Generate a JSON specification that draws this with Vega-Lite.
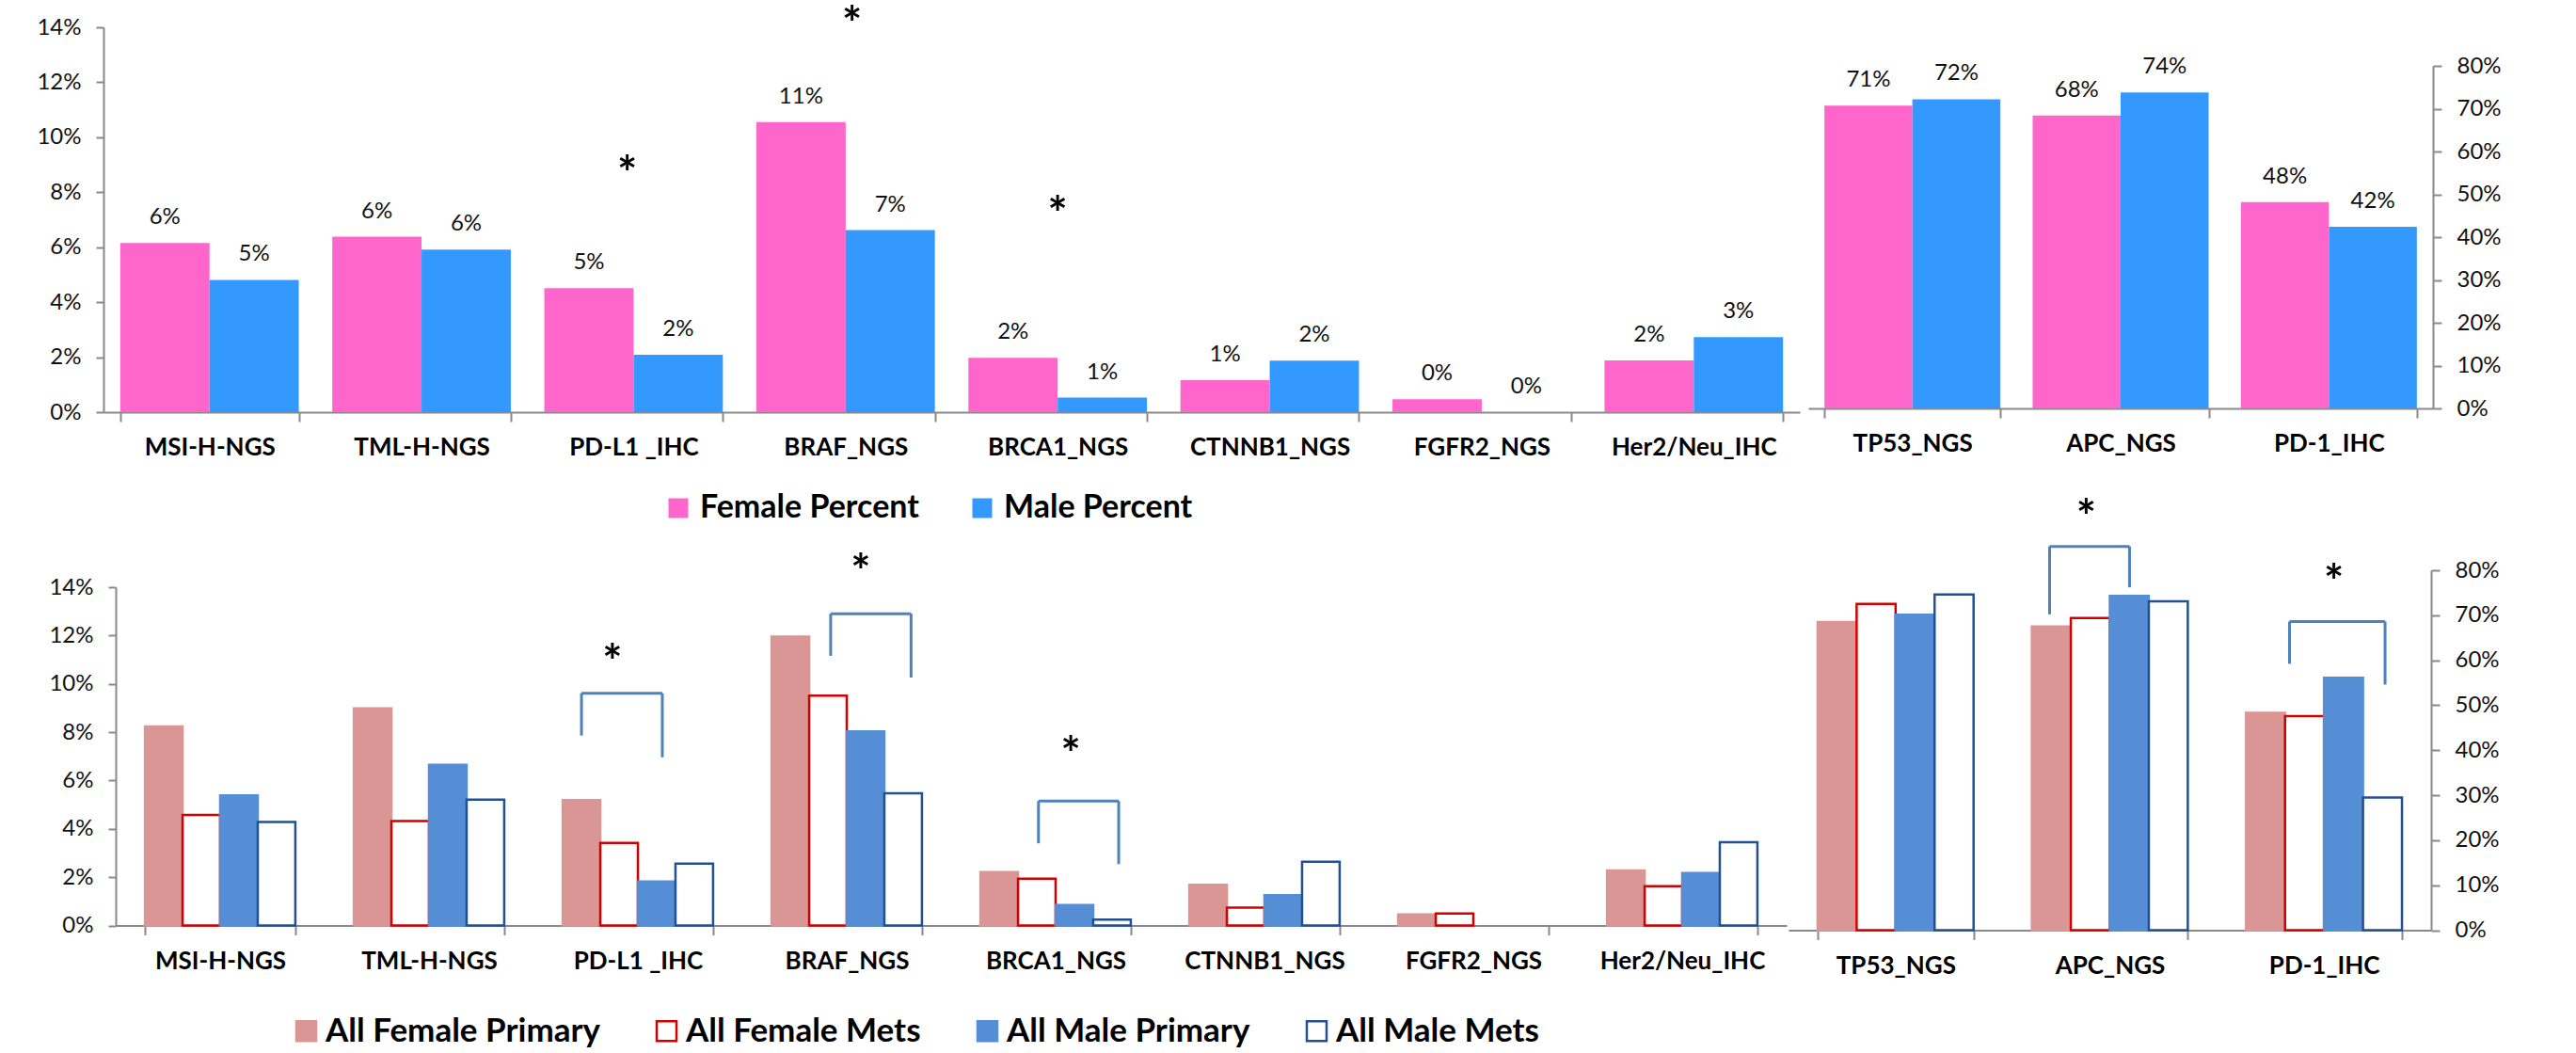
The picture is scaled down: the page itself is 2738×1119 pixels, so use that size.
{
  "$schema": "https://vega.github.io/schema/vega-lite/v6.json",
  "autosize": {"type": "pad"},
  "padding": {"left": 38, "top": 3, "right": 0, "bottom": 0},
  "background": "white",
  "config": {
    "font": "Lato",
    "view": {"stroke": null},
    "axis": {"domainColor": "#898989", "domainWidth": 2, "tickColor": "#898989", "tickWidth": 2, "grid": false, "title": null, "labelColor": "#111", "labelFont": "Lato"},
    "legend": {"labelFont": "Lato", "labelColor": "#000", "labelLimit": 600}
  },
  "datasets": {
    "topL": [
      {"cat": "MSI-H-NGS", "series": "Female Percent", "value": 0.0615},
      {"cat": "MSI-H-NGS", "series": "Male Percent", "value": 0.0481},
      {"cat": "TML-H-NGS", "series": "Female Percent", "value": 0.0638},
      {"cat": "TML-H-NGS", "series": "Male Percent", "value": 0.0591},
      {"cat": "PD-L1 _IHC", "series": "Female Percent", "value": 0.0451},
      {"cat": "PD-L1 _IHC", "series": "Male Percent", "value": 0.0209},
      {"cat": "BRAF_NGS", "series": "Female Percent", "value": 0.1055},
      {"cat": "BRAF_NGS", "series": "Male Percent", "value": 0.0662},
      {"cat": "BRCA1_NGS", "series": "Female Percent", "value": 0.0198},
      {"cat": "BRCA1_NGS", "series": "Male Percent", "value": 0.0053},
      {"cat": "CTNNB1_NGS", "series": "Female Percent", "value": 0.0116},
      {"cat": "CTNNB1_NGS", "series": "Male Percent", "value": 0.0187},
      {"cat": "FGFR2_NGS", "series": "Female Percent", "value": 0.0047},
      {"cat": "FGFR2_NGS", "series": "Male Percent", "value": 0},
      {"cat": "Her2/Neu_IHC", "series": "Female Percent", "value": 0.0188},
      {"cat": "Her2/Neu_IHC", "series": "Male Percent", "value": 0.0273}
    ],
    "topR": [
      {"cat": "TP53_NGS", "series": "Female Percent", "value": 0.707},
      {"cat": "TP53_NGS", "series": "Male Percent", "value": 0.722},
      {"cat": "APC_NGS", "series": "Female Percent", "value": 0.684},
      {"cat": "APC_NGS", "series": "Male Percent", "value": 0.738},
      {"cat": "PD-1_IHC", "series": "Female Percent", "value": 0.482},
      {"cat": "PD-1_IHC", "series": "Male Percent", "value": 0.424}
    ],
    "botL": [
      {"cat": "MSI-H-NGS", "series": "All Female Primary", "value": 0.0824},
      {"cat": "MSI-H-NGS", "series": "All Female Mets", "value": 0.0458},
      {"cat": "MSI-H-NGS", "series": "All Male Primary", "value": 0.0538},
      {"cat": "MSI-H-NGS", "series": "All Male Mets", "value": 0.0428},
      {"cat": "TML-H-NGS", "series": "All Female Primary", "value": 0.0899},
      {"cat": "TML-H-NGS", "series": "All Female Mets", "value": 0.0432},
      {"cat": "TML-H-NGS", "series": "All Male Primary", "value": 0.0665},
      {"cat": "TML-H-NGS", "series": "All Male Mets", "value": 0.0521},
      {"cat": "PD-L1 _IHC", "series": "All Female Primary", "value": 0.0519},
      {"cat": "PD-L1 _IHC", "series": "All Female Mets", "value": 0.0342},
      {"cat": "PD-L1 _IHC", "series": "All Male Primary", "value": 0.0182},
      {"cat": "PD-L1 _IHC", "series": "All Male Mets", "value": 0.0256},
      {"cat": "BRAF_NGS", "series": "All Female Primary", "value": 0.1196},
      {"cat": "BRAF_NGS", "series": "All Female Mets", "value": 0.0951},
      {"cat": "BRAF_NGS", "series": "All Male Primary", "value": 0.0803},
      {"cat": "BRAF_NGS", "series": "All Male Mets", "value": 0.0547},
      {"cat": "BRCA1_NGS", "series": "All Female Primary", "value": 0.0221},
      {"cat": "BRCA1_NGS", "series": "All Female Mets", "value": 0.0194},
      {"cat": "BRCA1_NGS", "series": "All Male Primary", "value": 0.0085},
      {"cat": "BRCA1_NGS", "series": "All Male Mets", "value": 0.0024},
      {"cat": "CTNNB1_NGS", "series": "All Female Primary", "value": 0.0168},
      {"cat": "CTNNB1_NGS", "series": "All Female Mets", "value": 0.0074},
      {"cat": "CTNNB1_NGS", "series": "All Male Primary", "value": 0.0126},
      {"cat": "CTNNB1_NGS", "series": "All Male Mets", "value": 0.0264},
      {"cat": "FGFR2_NGS", "series": "All Female Primary", "value": 0.0046},
      {"cat": "FGFR2_NGS", "series": "All Female Mets", "value": 0.005},
      {"cat": "Her2/Neu_IHC", "series": "All Female Primary", "value": 0.0228},
      {"cat": "Her2/Neu_IHC", "series": "All Female Mets", "value": 0.0163},
      {"cat": "Her2/Neu_IHC", "series": "All Male Primary", "value": 0.0217},
      {"cat": "Her2/Neu_IHC", "series": "All Male Mets", "value": 0.0345}
    ],
    "botR": [
      {"cat": "TP53_NGS", "series": "All Female Primary", "value": 0.685},
      {"cat": "TP53_NGS", "series": "All Female Mets", "value": 0.725},
      {"cat": "TP53_NGS", "series": "All Male Primary", "value": 0.701},
      {"cat": "TP53_NGS", "series": "All Male Mets", "value": 0.746},
      {"cat": "APC_NGS", "series": "All Female Primary", "value": 0.675},
      {"cat": "APC_NGS", "series": "All Female Mets", "value": 0.694},
      {"cat": "APC_NGS", "series": "All Male Primary", "value": 0.743},
      {"cat": "APC_NGS", "series": "All Male Mets", "value": 0.731},
      {"cat": "PD-1_IHC", "series": "All Female Primary", "value": 0.483},
      {"cat": "PD-1_IHC", "series": "All Female Mets", "value": 0.476},
      {"cat": "PD-1_IHC", "series": "All Male Primary", "value": 0.561},
      {"cat": "PD-1_IHC", "series": "All Male Mets", "value": 0.295}
    ],
    "astTL": [{"x": 2.47, "y": 0.0898}, {"x": 3.53, "y": 0.1441}, {"x": 4.5, "y": 0.075}],
    "astBL": [{"x": 2.378, "y": 0.1123}, {"x": 3.567, "y": 0.1498}, {"x": 4.573, "y": 0.0741}],
    "astBR": [{"x": 1.39, "y": 0.936}, {"x": 2.546, "y": 0.792}],
    "brBL": [
      {"x1": 2.23, "x2": 2.617, "top": 0.0961, "yl": 0.0786, "yr": 0.0696},
      {"x1": 3.423, "x2": 3.808, "top": 0.129, "yl": 0.1116, "yr": 0.1026},
      {"x1": 4.418, "x2": 4.802, "top": 0.0515, "yl": 0.034, "yr": 0.0254}
    ],
    "brBR": [
      {"x1": 1.219, "x2": 1.592, "top": 0.853, "yl": 0.702, "yr": 0.762},
      {"x1": 2.339, "x2": 2.785, "top": 0.686, "yl": 0.592, "yr": 0.546}
    ]
  },
  "columns": 2,
  "bounds": "flush",
  "align": "all",
  "spacing": {"row": 168, "column": 9},
  "resolve": {"scale": {"xOffset": "independent"}},
  "concat": [
    {
      "width": 1803,
      "height": 409,
      "resolve": {"scale": {"x": "independent"}},
      "layer": [
        {
          "data": {"name": "topL"},
          "layer": [
            {
              "mark": {"type": "bar"},
              "encoding": {
                "x": {"field": "cat", "type": "nominal", "sort": null,
                  "scale": {"paddingInner": 0.158, "paddingOuter": 0.079},
                  "axis": {"labelAngle": 0, "labelFontSize": 26, "labelFontWeight": "bold", "tickBand": "extent", "tickSize": 10, "labelPadding": 14, "labelColor": "#000"}},
                "xOffset": {"field": "series", "type": "nominal", "sort": ["Female Percent", "Male Percent"], "scale": {"paddingInner": 0, "paddingOuter": 0}},
                "y": {"field": "value", "type": "quantitative",
                  "scale": {"domain": [0, 0.14], "nice": false},
                  "axis": {"values": [0, 0.02, 0.04, 0.06, 0.08, 0.1, 0.12, 0.14], "format": ".0%", "labelFontSize": 24, "tickSize": 8, "labelPadding": 16}},
                "color": {"field": "series", "type": "nominal",
                  "scale": {"domain": ["Female Percent", "Male Percent"], "range": ["#FF66CC", "#3399FF"]},
                  "legend": {"orient": "none", "legendX": 594, "legendY": 494, "direction": "horizontal", "title": null, "symbolType": "square", "symbolSize": 441, "symbolStrokeWidth": 0, "labelFontSize": 34, "labelFontWeight": "bold", "labelOffset": 6, "columnPadding": 50}}
              }
            },
            {
              "mark": {"type": "text", "dy": -27, "fontSize": 24, "baseline": "middle", "color": "#111"},
              "encoding": {
                "x": {"field": "cat", "type": "nominal", "sort": null},
                "xOffset": {"field": "series", "type": "nominal", "sort": ["Female Percent", "Male Percent"]},
                "y": {"field": "value", "type": "quantitative", "scale": {"domain": [0, 0.14], "nice": false}},
                "text": {"field": "value", "type": "quantitative", "format": ".0%"}
              }
            }
          ]
        },
        {
          "data": {"name": "astTL"},
          "mark": {"type": "text", "fontSize": 50, "fontWeight": "bold", "baseline": "middle", "dy": 11, "color": "#000"},
          "encoding": {
            "x": {"field": "x", "type": "quantitative", "scale": {"domain": [0, 8], "nice": false, "zero": false}, "axis": null},
            "y": {"field": "y", "type": "quantitative", "scale": {"domain": [0, 0.14], "nice": false}},
            "text": {"value": "*"}
          }
        }
      ]
    },
    {
      "width": 664,
      "height": 405,
      "data": {"name": "topR"},
      "layer": [
        {
          "mark": {"type": "bar"},
          "encoding": {
            "x": {"field": "cat", "type": "nominal", "sort": null,
              "scale": {"paddingInner": 0.155, "paddingOuter": 0.0775},
              "axis": {"labelAngle": 0, "labelFontSize": 26, "labelFontWeight": "bold", "tickBand": "extent", "tickSize": 10, "labelPadding": 14, "labelColor": "#000"}},
            "xOffset": {"field": "series", "type": "nominal", "sort": ["Female Percent", "Male Percent"], "scale": {"paddingInner": 0, "paddingOuter": 0}},
            "y": {"field": "value", "type": "quantitative",
              "scale": {"domain": [0, 0.8], "nice": false, "range": [405, 41]},
              "axis": {"orient": "right", "values": [0, 0.1, 0.2, 0.3, 0.4, 0.5, 0.6, 0.7, 0.8], "format": ".0%", "labelFontSize": 24, "tickSize": 9, "labelPadding": 16}},
            "color": {"field": "series", "type": "nominal",
              "scale": {"domain": ["Female Percent", "Male Percent"], "range": ["#FF66CC", "#3399FF"]},
              "legend": {"orient": "none", "legendX": 594, "legendY": 494, "direction": "horizontal", "title": null, "symbolType": "square", "symbolSize": 441, "symbolStrokeWidth": 0, "labelFontSize": 34, "labelFontWeight": "bold", "labelOffset": 6, "columnPadding": 50}}
          }
        },
        {
          "mark": {"type": "text", "dy": -27, "fontSize": 24, "baseline": "middle", "color": "#111"},
          "encoding": {
            "x": {"field": "cat", "type": "nominal", "sort": null},
            "xOffset": {"field": "series", "type": "nominal", "sort": ["Female Percent", "Male Percent"]},
            "y": {"field": "value", "type": "quantitative", "scale": {"domain": [0, 0.8], "nice": false, "range": [405, 41]}},
            "text": {"field": "value", "type": "quantitative", "format": ".0%"}
          }
        }
      ]
    },
    {
      "width": 1789,
      "height": 377.5,
      "resolve": {"scale": {"x": "independent"}},
      "layer": [
        {
          "data": {"name": "botL"},
          "mark": {"type": "bar", "strokeWidth": 2.5},
          "encoding": {
            "x": {"field": "cat", "type": "nominal", "sort": ["MSI-H-NGS", "TML-H-NGS", "PD-L1 _IHC", "BRAF_NGS", "BRCA1_NGS", "CTNNB1_NGS", "FGFR2_NGS", "Her2/Neu_IHC"],
              "scale": {"paddingInner": 0.28, "paddingOuter": 0.14, "range": [13, 1789]},
              "axis": {"labelAngle": 0, "labelFontSize": 26, "labelFontWeight": "bold", "tickBand": "extent", "tickSize": 10, "labelPadding": 15, "labelColor": "#000"}},
            "xOffset": {"field": "series", "type": "nominal", "sort": ["All Female Primary", "All Female Mets", "All Male Primary", "All Male Mets"], "scale": {"paddingInner": 0, "paddingOuter": 0}},
            "y": {"field": "value", "type": "quantitative",
              "scale": {"domain": [0, 0.14], "nice": false, "range": [377.5, 18]},
              "axis": {"values": [0, 0.02, 0.04, 0.06, 0.08, 0.1, 0.12, 0.14], "format": ".0%", "labelFontSize": 24, "tickSize": 8, "labelPadding": 16, "offset": -13}},
            "fill": {"field": "series", "type": "nominal",
              "scale": {"domain": ["All Female Primary", "All Female Mets", "All Male Primary", "All Male Mets"], "range": ["#D99694", "#FFFFFF", "#558ED5", "#FFFFFF"]},
              "legend": {"orient": "none", "legendX": 198, "legendY": 1049, "direction": "horizontal", "title": null, "symbolType": "square", "symbolSize": 441, "symbolStrokeWidth": 2.5, "labelFontSize": 35, "labelFontWeight": "bold", "labelOffset": 3, "columnPadding": 53}},
            "stroke": {"field": "series", "type": "nominal",
              "scale": {"domain": ["All Female Primary", "All Female Mets", "All Male Primary", "All Male Mets"], "range": ["#D99694", "#D40000", "#558ED5", "#24508F"]},
              "legend": {"orient": "none", "legendX": 198, "legendY": 1049, "direction": "horizontal", "title": null, "symbolType": "square", "symbolSize": 441, "symbolStrokeWidth": 2.5, "labelFontSize": 35, "labelFontWeight": "bold", "labelOffset": 3, "columnPadding": 53}}
          }
        },
        {
          "layer": [
            {
              "data": {"name": "brBL"},
              "mark": {"type": "rule", "color": "#4F81BD", "strokeWidth": 3},
              "encoding": {
                "x": {"field": "x1", "type": "quantitative", "scale": {"domain": [0, 8], "range": [13, 1789], "nice": false, "zero": false}, "axis": null},
                "y": {"field": "yl", "type": "quantitative", "scale": {"domain": [0, 0.14], "nice": false, "range": [377.5, 18]}},
                "y2": {"field": "top"}
              }
            },
            {
              "data": {"name": "brBL"},
              "mark": {"type": "rule", "color": "#4F81BD", "strokeWidth": 3},
              "encoding": {
                "x": {"field": "x2", "type": "quantitative", "scale": {"domain": [0, 8], "range": [13, 1789], "nice": false, "zero": false}, "axis": null},
                "y": {"field": "yr", "type": "quantitative", "scale": {"domain": [0, 0.14], "nice": false, "range": [377.5, 18]}},
                "y2": {"field": "top"}
              }
            },
            {
              "data": {"name": "brBL"},
              "mark": {"type": "rule", "color": "#4F81BD", "strokeWidth": 3},
              "encoding": {
                "x": {"field": "x1", "type": "quantitative", "scale": {"domain": [0, 8], "range": [13, 1789], "nice": false, "zero": false}, "axis": null},
                "x2": {"field": "x2"},
                "y": {"field": "top", "type": "quantitative", "scale": {"domain": [0, 0.14], "nice": false, "range": [377.5, 18]}}
              }
            },
            {
              "data": {"name": "astBL"},
              "mark": {"type": "text", "fontSize": 50, "fontWeight": "bold", "baseline": "middle", "dy": 11, "color": "#000"},
              "encoding": {
                "x": {"field": "x", "type": "quantitative", "scale": {"domain": [0, 8], "range": [13, 1789], "nice": false, "zero": false}, "axis": null},
                "y": {"field": "y", "type": "quantitative", "scale": {"domain": [0, 0.14], "nice": false, "range": [377.5, 18]}},
                "text": {"value": "*"}
              }
            }
          ]
        }
      ]
    },
    {
      "width": 662,
      "height": 382.5,
      "resolve": {"scale": {"x": "independent"}},
      "layer": [
        {
          "data": {"name": "botR"},
          "mark": {"type": "bar", "strokeWidth": 2.5},
          "encoding": {
            "x": {"field": "cat", "type": "nominal", "sort": null,
              "scale": {"paddingInner": 0.272, "paddingOuter": 0.136, "range": [-21, 662]},
              "axis": {"labelAngle": 0, "labelFontSize": 26, "labelFontWeight": "bold", "tickBand": "extent", "tickSize": 10, "labelPadding": 15, "labelColor": "#000"}},
            "xOffset": {"field": "series", "type": "nominal", "sort": ["All Female Primary", "All Female Mets", "All Male Primary", "All Male Mets"], "scale": {"paddingInner": 0, "paddingOuter": 0}},
            "y": {"field": "value", "type": "quantitative",
              "scale": {"domain": [0, 0.8], "nice": false},
              "axis": {"orient": "right", "values": [0, 0.1, 0.2, 0.3, 0.4, 0.5, 0.6, 0.7, 0.8], "format": ".0%", "labelFontSize": 24, "tickSize": 9, "labelPadding": 16}},
            "fill": {"field": "series", "type": "nominal",
              "scale": {"domain": ["All Female Primary", "All Female Mets", "All Male Primary", "All Male Mets"], "range": ["#D99694", "#FFFFFF", "#558ED5", "#FFFFFF"]},
              "legend": {"orient": "none", "legendX": 198, "legendY": 1049, "direction": "horizontal", "title": null, "symbolType": "square", "symbolSize": 441, "symbolStrokeWidth": 2.5, "labelFontSize": 35, "labelFontWeight": "bold", "labelOffset": 3, "columnPadding": 53}},
            "stroke": {"field": "series", "type": "nominal",
              "scale": {"domain": ["All Female Primary", "All Female Mets", "All Male Primary", "All Male Mets"], "range": ["#D99694", "#D40000", "#558ED5", "#24508F"]},
              "legend": {"orient": "none", "legendX": 198, "legendY": 1049, "direction": "horizontal", "title": null, "symbolType": "square", "symbolSize": 441, "symbolStrokeWidth": 2.5, "labelFontSize": 35, "labelFontWeight": "bold", "labelOffset": 3, "columnPadding": 53}}
          }
        },
        {
          "layer": [
            {
              "data": {"name": "brBR"},
              "mark": {"type": "rule", "color": "#4F81BD", "strokeWidth": 3},
              "encoding": {
                "x": {"field": "x1", "type": "quantitative", "scale": {"domain": [0, 3], "range": [-21, 662], "nice": false, "zero": false}, "axis": null},
                "y": {"field": "yl", "type": "quantitative", "scale": {"domain": [0, 0.8], "nice": false}},
                "y2": {"field": "top"}
              }
            },
            {
              "data": {"name": "brBR"},
              "mark": {"type": "rule", "color": "#4F81BD", "strokeWidth": 3},
              "encoding": {
                "x": {"field": "x2", "type": "quantitative", "scale": {"domain": [0, 3], "range": [-21, 662], "nice": false, "zero": false}, "axis": null},
                "y": {"field": "yr", "type": "quantitative", "scale": {"domain": [0, 0.8], "nice": false}},
                "y2": {"field": "top"}
              }
            },
            {
              "data": {"name": "brBR"},
              "mark": {"type": "rule", "color": "#4F81BD", "strokeWidth": 3},
              "encoding": {
                "x": {"field": "x1", "type": "quantitative", "scale": {"domain": [0, 3], "range": [-21, 662], "nice": false, "zero": false}, "axis": null},
                "x2": {"field": "x2"},
                "y": {"field": "top", "type": "quantitative", "scale": {"domain": [0, 0.8], "nice": false}}
              }
            },
            {
              "data": {"name": "astBR"},
              "mark": {"type": "text", "fontSize": 50, "fontWeight": "bold", "baseline": "middle", "dy": 11, "color": "#000"},
              "encoding": {
                "x": {"field": "x", "type": "quantitative", "scale": {"domain": [0, 3], "range": [-21, 662], "nice": false, "zero": false}, "axis": null},
                "y": {"field": "y", "type": "quantitative", "scale": {"domain": [0, 0.8], "nice": false}},
                "text": {"value": "*"}
              }
            }
          ]
        }
      ]
    }
  ]
}
